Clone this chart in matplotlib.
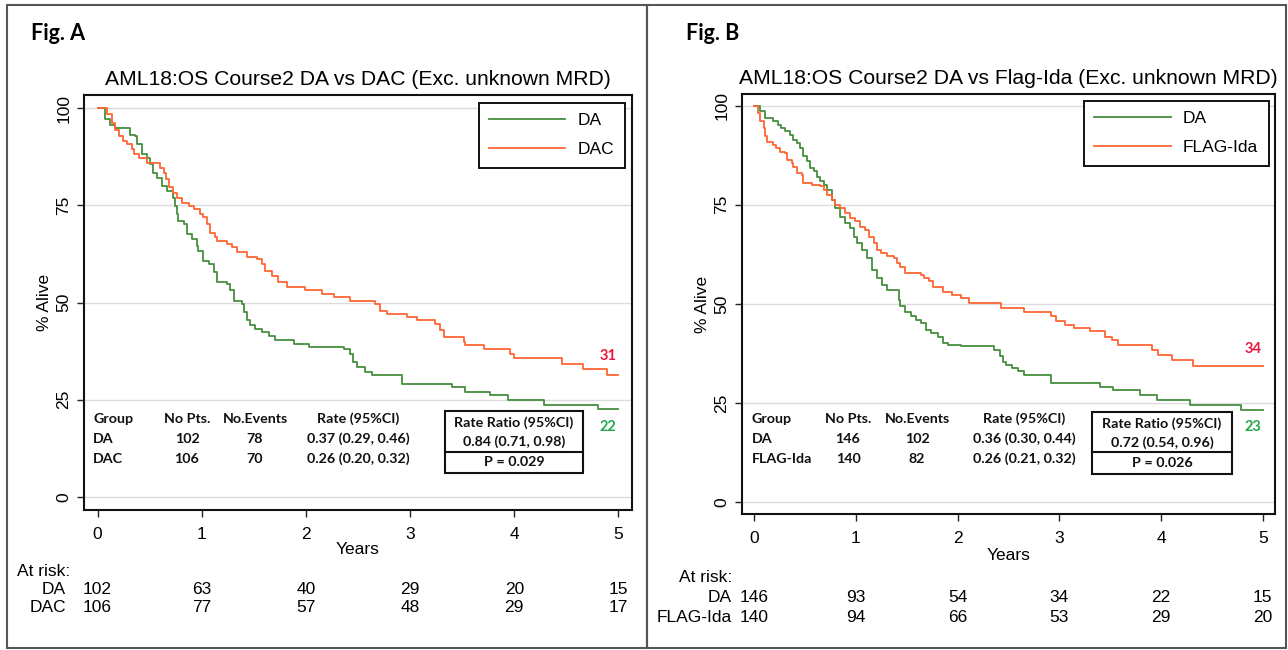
import matplotlib
matplotlib.use("Agg")
import matplotlib.pyplot as plt
from matplotlib.patches import Rectangle
from matplotlib.lines import Line2D

# ---------------- data ----------------
years_ticks = [0, 1, 2, 3, 4, 5]
y_ticks = [0, 25, 50, 75, 100]

# Panel A : DA vs DAC
a_da_t = [0, 0.07, 0.12, 0.17, 0.31, 0.36, 0.38, 0.43, 0.47, 0.50, 0.53, 0.57, 0.62, 0.67, 0.72, 0.74,
          0.76, 0.77, 0.83, 0.86, 0.91, 0.95, 0.96, 1.01, 1.07, 1.12, 1.15, 1.24, 1.27, 1.31, 1.39, 1.41,
          1.43, 1.46, 1.51, 1.58, 1.65, 1.70, 1.89, 2.03, 2.37, 2.42, 2.45, 2.49, 2.57, 2.63, 2.92, 3.40,
          3.53, 3.77, 3.94, 4.29, 4.80, 5.0]
a_da_s = [100, 97.1, 95.8, 95.0, 93.2, 92.8, 90.7, 88.1, 87.3, 85.6, 83.4, 82.1, 80.0, 78.7, 77.0, 74.9,
          72.7, 71.0, 70.2, 67.6, 66.3, 64.6, 63.3, 60.8, 59.9, 57.8, 55.2, 54.8, 53.1, 50.5, 49.7, 47.5,
          45.4, 44.1, 43.2, 42.4, 41.5, 40.3, 39.4, 38.5, 38.1, 36.8, 34.7, 33.4, 32.1, 31.3, 29.1, 28.3,
          27.0, 26.2, 24.9, 23.6, 22.5, 22.5]
a_dac_t = [0, 0.09, 0.14, 0.17, 0.21, 0.24, 0.28, 0.33, 0.35, 0.40, 0.47, 0.60, 0.64, 0.66, 0.69, 0.72,
           0.76, 0.81, 0.88, 0.93, 0.98, 1.01, 1.05, 1.08, 1.13, 1.15, 1.24, 1.29, 1.34, 1.43, 1.53, 1.58,
           1.61, 1.67, 1.73, 1.82, 1.99, 2.15, 2.27, 2.42, 2.66, 2.71, 2.78, 2.97, 3.07, 3.24, 3.29, 3.33,
           3.52, 3.53, 3.71, 3.96, 4.00, 4.46, 4.66, 4.89, 5.0]
a_dac_s = [100, 98.4, 96.2, 94.5, 92.8, 91.5, 90.7, 89.4, 88.1, 87.3, 86.0, 84.7, 83.4, 81.7, 79.6, 78.3,
           77.0, 75.7, 74.9, 74.0, 72.7, 71.9, 70.2, 68.0, 66.8, 65.9, 65.0, 64.2, 62.9, 61.6, 61.2, 59.9,
           58.2, 56.9, 55.2, 53.9, 53.1, 52.2, 51.4, 50.5, 49.7, 47.9, 47.1, 46.2, 45.4, 44.5, 42.8, 41.1,
           39.8, 39.0, 38.1, 36.8, 35.6, 34.3, 33.0, 31.3, 31.3]

# Panel B : DA vs FLAG-Ida
b_da_t = [0, 0.06, 0.11, 0.18, 0.23, 0.26, 0.30, 0.35, 0.38, 0.42, 0.45, 0.48, 0.52, 0.55, 0.59, 0.62,
          0.65, 0.69, 0.72, 0.76, 0.79, 0.84, 0.89, 0.94, 0.98, 1.01, 1.06, 1.11, 1.16, 1.21, 1.26, 1.31,
          1.42, 1.43, 1.48, 1.54, 1.59, 1.64, 1.69, 1.74, 1.81, 1.86, 1.91, 2.03, 2.36, 2.42, 2.45, 2.48,
          2.53, 2.59, 2.65, 2.92, 3.40, 3.53, 3.79, 3.96, 4.28, 4.79, 5.0]
b_da_s = [100, 98.5, 96.8, 96.0, 95.1, 94.3, 93.5, 92.6, 91.4, 90.5, 89.3, 87.2, 85.9, 84.2, 83.4, 82.1,
          80.9, 80.0, 78.8, 76.2, 74.1, 72.0, 70.4, 69.1, 67.0, 65.3, 63.6, 61.5, 58.6, 56.5, 54.8, 53.6,
          51.0, 49.4, 48.1, 46.9, 46.0, 45.2, 43.5, 42.7, 41.8, 40.1, 39.7, 39.3, 38.5, 36.8, 35.5, 34.7,
          33.8, 33.0, 32.2, 30.1, 29.2, 28.4, 27.1, 25.9, 24.6, 23.3, 23.3]
b_flag_t = [0, 0.04, 0.06, 0.10, 0.11, 0.13, 0.18, 0.21, 0.25, 0.30, 0.32, 0.37, 0.38, 0.42, 0.47, 0.48,
            0.57, 0.65, 0.69, 0.72, 0.76, 0.79, 0.84, 0.89, 0.94, 0.99, 1.04, 1.09, 1.13, 1.18, 1.21, 1.25,
            1.31, 1.37, 1.40, 1.43, 1.48, 1.64, 1.67, 1.72, 1.76, 1.86, 1.94, 2.03, 2.11, 2.43, 2.65, 2.92,
            2.97, 3.06, 3.14, 3.30, 3.45, 3.52, 3.58, 3.91, 3.97, 4.11, 4.31, 5.0]
b_flag_s = [100, 98.1, 96.0, 94.3, 92.2, 90.9, 90.1, 89.3, 88.4, 88.0, 86.3, 85.5, 84.6, 83.0, 82.5, 80.4,
            80.0, 79.6, 78.8, 77.5, 76.2, 75.0, 74.1, 72.9, 71.6, 70.8, 69.5, 68.7, 67.0, 65.3, 63.6, 62.8,
            62.0, 61.5, 60.3, 59.4, 57.8, 57.3, 56.5, 55.7, 54.4, 53.1, 52.3, 51.5, 50.2, 49.0, 48.1, 46.9,
            45.6, 44.8, 43.9, 43.1, 41.8, 41.0, 39.7, 38.5, 37.2, 35.9, 34.4, 34.4]

# at-risk numbers
a_groups = ["DA", "DAC"]
a_risk_da = [102, 63, 40, 29, 20, 15]
a_risk_dac = [106, 77, 57, 48, 29, 17]
b_groups = ["DA", "FLAG-Ida"]
b_risk_da = [146, 93, 54, 34, 22, 15]
b_risk_flag = [140, 94, 66, 53, 29, 20]

# summary tables
a_pts = [102, 106]
a_events = [78, 70]
a_rates = ["0.37 (0.29, 0.46)", "0.26 (0.20, 0.32)"]
a_rr = "0.84 (0.71, 0.98)"
a_p = "P = 0.029"
b_pts = [146, 140]
b_events = [102, 82]
b_rates = ["0.36 (0.30, 0.44)", "0.26 (0.21, 0.32)"]
b_rr = "0.72 (0.54, 0.96)"
b_p = "P = 0.026"

# final % labels
a_final = ["22", "31"]
b_final = ["23", "34"]

# ---------------- style ----------------
W, H = 1288, 650
GREEN = "#458F3E"
ORANGE = "#FF6633"
LAB_GREEN = "#22A846"
LAB_RED = "#E8173C"
RFONT = ["Liberation Sans", "DejaVu Sans"]
CFONT = ["Lato", "DejaVu Sans"]

plt.rcParams["font.family"] = RFONT

fig = plt.figure(figsize=(W / 100, H / 100), dpi=100)
fig.patch.set_facecolor("white")


def fx(px):
    return px / W


def fy(py):
    return 1 - py / H


def draw_panel(box, xlim, ylim, fig_label, fig_label_x, title, curves, labels, finals, final_pos,
               groups, risk, risk_lab_x, risk_y, years_y, table, table_x, rr_box, leg_anchor):
    x0, y0, x1, y1 = box
    ax = fig.add_axes([fx(x0), fy(y1), fx(x1) - fx(x0), fy(y0) - fy(y1)])
    ax.set_xlim(*xlim)
    ax.set_ylim(*ylim)
    for yv in y_ticks:
        ax.axhline(yv, color="#DCDCDC", lw=1.0, zorder=0)
    lines = []
    for (t, s), c in zip(curves, [GREEN, ORANGE]):
        ln, = ax.step(t, s, where="post", color=c, lw=1.3, zorder=3)
        lines.append(ln)
    ax.set_xticks(years_ticks)
    ax.set_yticks(y_ticks)
    ax.set_yticklabels([str(v) for v in y_ticks], rotation=90, va="center")
    ax.tick_params(axis="both", labelsize=12.5, length=5, width=1.0, color="#222222")
    ax.tick_params(axis="x", pad=7)
    ax.tick_params(axis="y", pad=4)
    for sp in ax.spines.values():
        sp.set_linewidth(1.5)
        sp.set_color("#111111")
    ax.set_ylabel("% Alive", fontsize=12.5, labelpad=3)
    ax.set_title(title, fontsize=15.2, pad=7)
    leg = ax.legend(lines, labels, loc="upper right", bbox_to_anchor=leg_anchor, borderaxespad=0,
                    fontsize=12.5, handlelength=4.4, handletextpad=0.7, labelspacing=0.8,
                    borderpad=0.6, fancybox=False, framealpha=1)
    leg.get_frame().set_edgecolor("#111111")
    leg.get_frame().set_linewidth(1.4)
    for ln in leg.get_lines():
        ln.set_linewidth(1.3)

    # final % labels
    for (t, s), txt, c, dy in zip(curves, finals, [LAB_GREEN, LAB_RED], final_pos):
        ax.text(t[-1] - 0.1, s[-1] + dy, txt, color=c, fontsize=10.5, fontweight="bold",
                family=CFONT, ha="center", va="center")

    # Years label
    fig.text(fx((x0 + x1) / 2), fy(years_y), "Years", fontsize=12.5, ha="center", va="center")

    # at-risk table
    fig.text(fx(risk_lab_x[0]), fy(risk_y[0]), "At risk:", fontsize=12.5, ha="right", va="center")
    for g, row, yy in zip(groups, risk, risk_y[1:]):
        fig.text(fx(risk_lab_x[1]), fy(yy), g, fontsize=12.5, ha="right", va="center")
        for xv, n in zip(years_ticks, row):
            ax.annotate(str(n), xy=(xv, fy(yy)), xycoords=("data", "figure fraction"),
                        fontsize=12.5, ha="center", va="center", annotation_clip=False)

    # summary table
    pts, events, rates, rr, pval = table
    gx, cx_pts, cx_ev, cx_rate = table_x
    rows_y = [419, 439, 459]
    tk = dict(fontsize=10.3, fontweight="bold", family=CFONT, va="center", color="#111111")
    fig.text(fx(gx), fy(rows_y[0]), "Group", ha="left", **tk)
    fig.text(fx(cx_pts), fy(rows_y[0]), "No Pts.", ha="center", **tk)
    fig.text(fx(cx_ev), fy(rows_y[0]), "No.Events", ha="center", **tk)
    fig.text(fx(cx_rate), fy(rows_y[0]), "Rate (95%CI)", ha="center", **tk)
    for i, g in enumerate(groups):
        yy = rows_y[i + 1]
        fig.text(fx(gx), fy(yy), g, ha="left", **tk)
        fig.text(fx(cx_pts), fy(yy), str(pts[i]), ha="center", **tk)
        fig.text(fx(cx_ev), fy(yy), str(events[i]), ha="center", **tk)
        fig.text(fx(cx_rate), fy(yy), rates[i], ha="center", **tk)
    bx0, by0, bx1, bmid, by1 = rr_box
    fig.add_artist(Rectangle((fx(bx0), fy(by1)), fx(bx1) - fx(bx0), fy(by0) - fy(by1),
                             transform=fig.transFigure, fill=False, ec="#111111", lw=1.5))
    fig.add_artist(Line2D([fx(bx0), fx(bx1)], [fy(bmid), fy(bmid)], transform=fig.transFigure,
                          color="#111111", lw=1.5))
    bcx = (bx0 + bx1) / 2
    fig.text(fx(bcx), fy(by0 + 12), "Rate Ratio (95%CI)", ha="center", **tk)
    fig.text(fx(bcx), fy(by0 + 31), rr, ha="center", **tk)
    fig.text(fx(bcx), fy((bmid + by1) / 2), pval, ha="center", **tk)

    # Fig label
    fig.text(fx(fig_label_x), fy(34), fig_label, fontsize=15.5, fontweight="bold", family=CFONT,
             ha="left", va="center")
    return ax


draw_panel(box=(84, 95, 632, 510), xlim=(-0.13, 5.13), ylim=(-3.4, 103.4),
           fig_label="Fig. A", fig_label_x=31,
           title="AML18:OS Course2 DA vs DAC (Exc. unknown MRD)",
           curves=[(a_da_t, a_da_s), (a_dac_t, a_dac_s)], labels=a_groups,
           finals=a_final, final_pos=[-4.5, 5.0],
           groups=a_groups, risk=[a_risk_da, a_risk_dac], risk_lab_x=(70, 66),
           risk_y=[572, 590, 608], years_y=550,
           table=(a_pts, a_events, a_rates, a_rr, a_p), table_x=(93, 187, 255, 358),
           rr_box=(445, 411, 583, 452, 473), leg_anchor=(0.9865, 0.9814))

draw_panel(box=(742, 94, 1275, 514), xlim=(-0.12, 5.12), ylim=(-2.9, 102.9),
           fig_label="Fig. B", fig_label_x=686,
           title="AML18:OS Course2 DA vs Flag-Ida (Exc. unknown MRD)",
           curves=[(b_da_t, b_da_s), (b_flag_t, b_flag_s)], labels=b_groups,
           finals=b_final, final_pos=[-4.3, 4.3],
           groups=b_groups, risk=[b_risk_da, b_risk_flag], risk_lab_x=(732, 732),
           risk_y=[578, 598, 617], years_y=555,
           table=(b_pts, b_events, b_rates, b_rr, b_p), table_x=(752, 848, 917, 1024),
           rr_box=(1092, 412, 1232, 452, 474), leg_anchor=(0.988, 0.984))

# panel frames
for (l, r) in [(7, 647), (647, 1286)]:
    fig.add_artist(Rectangle((fx(l), fy(648)), fx(r) - fx(l), fy(5) - fy(648),
                             transform=fig.transFigure, fill=False, ec="#555555", lw=1.5))

fig.savefig("out.png", dpi=100, facecolor="white")
